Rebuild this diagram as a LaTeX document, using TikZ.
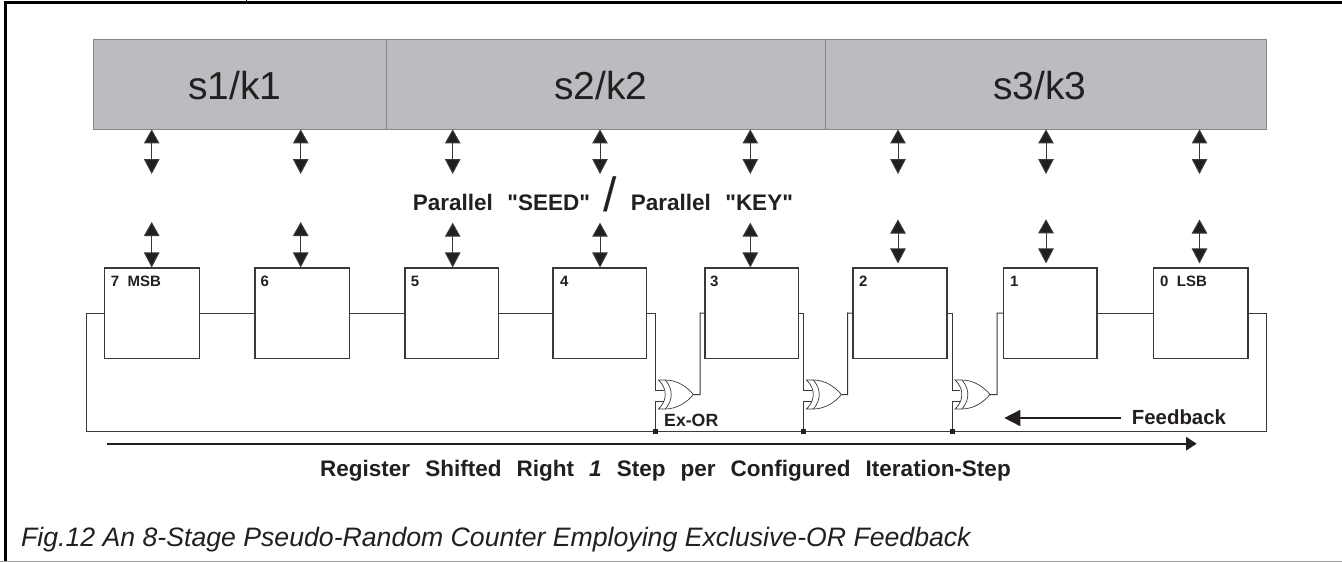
\documentclass[tikz,border=0pt]{standalone}
\usepackage{fontspec}
\setmainfont{Liberation Sans}[Ligatures=TeXOff]
\usetikzlibrary{arrows.meta,calc}
\definecolor{ink}{HTML}{231F20}
\definecolor{bandfill}{HTML}{BBBCBF}
\definecolor{bandline}{HTML}{858688}
\definecolor{wire}{HTML}{3A3839}
\newcommand{\fsz}[1]{\fontsize{#1}{#1}\selectfont}
\newcommand{\gap}{\hspace{0.64em}}
\newcommand{\gapb}{\hspace{0.67em}}
\tikzset{
  bandbox/.style={draw=bandline,line width=0.9pt,fill=bandfill,inner sep=0pt,minimum height=90pt,text=ink},
  regbox/.style={draw=wire,line width=1.1pt,fill=white,inner sep=0pt,minimum height=90.3pt},
  reglabel/.style={anchor=base west,inner sep=0pt,font=\fsz{15}\bfseries,text=ink},
  txt/.style={anchor=base west,inner sep=0pt,text=ink},
  wireline/.style={draw=wire,line width=1pt},
  bidir/.style={draw=wire,line width=1pt,{Triangle[length=14pt,width=15.5pt,fill=ink]}-{Triangle[length=15pt,width=15.5pt,fill=ink]}},
  dotnode/.style={fill=ink,inner sep=0pt,minimum size=4.5pt,rectangle},
  pics/xorgate/.style={code={
    \coordinate (-u) at (0,-3.8);
    \coordinate (-us) at (8,-3.8);
    \coordinate (-l) at (0,7.2);
    \coordinate (-ls) at (8,7.2);
    \coordinate (-o) at (37.7,0);
    \draw[draw=wire,line width=.7pt,fill=white]
      (2.7,-14.5) -- (9.5,-14.5) .. controls (22,-14.5) and (32,-7) .. (37.7,0)
      .. controls (32,7) and (22,14.5) .. (9.5,14.5) -- (2.7,14.5)
      .. controls (8.5,9) and (9.5,4) .. (9.5,0) .. controls (9.5,-4) and (8.5,-9) .. (2.7,-14.5) -- cycle;
    \draw[draw=wire,line width=.7pt]
      (9.5,-14.5) .. controls (14.5,-9) and (15.5,-4) .. (15.5,0) .. controls (15.5,4) and (14.5,9) .. (9.5,14.5);
  }}
}
\begin{document}
\begin{tikzpicture}[x=1pt,y=-1pt]
\useasboundingbox (0,0) rectangle (1342,562);
% frame
\fill[white] (0,0) rectangle (1342,562);
\draw[black,line width=2.6pt] (5.2,562) -- (5.2,2.6) -- (1342,2.6);
\draw[black,line width=1pt] (246.8,0) -- (246.8,3);
\draw[bandline!80,line width=1pt] (0,561.4) -- (1342,561.4);
% band
\node[bandbox,minimum width=293.5pt] (s1) at (239.75,84) {};
\node[bandbox,minimum width=438.5pt] (s2) at (605.75,84) {};
\node[bandbox,minimum width=441.5pt] (s3) at (1045.75,84) {};
\node[txt,font=\fsz{39}] (s1t) at (188,99) {s1/k1};
\node[txt,font=\fsz{39}] (s2t) at (554,99) {s2/k2};
\node[txt,font=\fsz{39}] (s3t) at (993,99) {s3/k3};
% registers
\node[regbox,minimum width=94.6pt] (r7) at (152,313.15) {};
\node[regbox,minimum width=94.3pt] (r6) at (302.15,313.15) {};
\node[regbox,minimum width=93.3pt] (r5) at (451.65,313.15) {};
\node[regbox,minimum width=93.6pt] (r4) at (599.8,313.15) {};
\node[regbox,minimum width=93.3pt] (r3) at (751.65,313.15) {};
\node[regbox,minimum width=94pt] (r2) at (900,313.15) {};
\node[regbox,minimum width=93.7pt] (r1) at (1050.15,313.15) {};
\node[regbox,minimum width=94.3pt] (r0) at (1200.85,313.15) {};
\node[reglabel] (l7) at (110.7,286) {7\ \ MSB};
\node[reglabel] (l6) at (260.3,286) {6};
\node[reglabel] (l5) at (410.7,286) {5};
\node[reglabel] (l4) at (560,286) {4};
\node[reglabel] (l3) at (710,286) {3};
\node[reglabel] (l2) at (859,286) {2};
\node[reglabel] (l1) at (1010,286) {1};
\node[reglabel] (l0) at (1160,286) {0\ \ LSB};
% upper arrows
\foreach \n/\xx/\bnd in {7/151.7/s1,6/300.7/s1,5/452.7/s2,4/600/s2,3/750.3/s2,2/898/s3,1/1046/s3,0/1199.5/s3}{
  \coordinate (t\n) at (\xx,174);
  \draw[bidir] (t\n |- \bnd.south) -- (t\n);
}
% lower arrows
\foreach \n/\xx/\yy in {7/151.7/222,6/300.7/222,5/452.7/222.7,4/600/222.7,3/750.3/222.7,2/898/219.5,1/1046/219.3,0/1199.5/219.5}{
  \coordinate (p\n) at (\xx,\yy);
}
\draw[bidir] (p7) -- (p7 |- r7.north);
\draw[bidir] (p6) -- (p6 |- r6.north);
\draw[bidir] (p5) -- (p5 |- r5.north);
\draw[bidir] (p4) -- (p4 |- r4.north);
\draw[bidir] (p3) -- (p3 |- r3.north);
\draw[bidir] ($(p2)$) -- ($(p2 |- r2.north)+(0,-4)$);
\draw[bidir] ($(p1)$) -- ($(p1 |- r1.north)+(0,-4)$);
\draw[bidir] ($(p0)$) -- ($(p0 |- r0.north)+(0,-4)$);
% seed/key label
\node[txt,font=\fsz{22.5}\bfseries] (seed) at (412.7,210.7) {Parallel\gap "SEED"};
\node[txt,font=\fsz{22.5}\bfseries] (key) at (630.7,210.7) {Parallel\gap "KEY"};
\node[txt,font=\fsz{48}] (slash) at (603,211.5) {/};
% shift chain
\draw[wireline] (r7.east) -- (r6.west);
\draw[wireline] (r6.east) -- (r5.west);
\draw[wireline] (r5.east) -- (r4.west);
\draw[wireline] (r1.east) -- (r0.west);
% feedback loop
\coordinate (fbl) at (86.3,431.3);
\coordinate (fbr) at (1266.3,431.3);
\draw[wireline] (r7.west) -| (fbl) -- (fbr) |- (r0.east);
% gates
\pic (g1) at (655.7,394.5) {xorgate};
\pic (g2) at (803.7,394.5) {xorgate};
\pic (g3) at (952.3,394.5) {xorgate};
\coordinate (k1) at (700,313);
\coordinate (k2) at (847.7,313);
\coordinate (k3) at (997,313);
\node[dotnode] (d1) at (655.7,431.3) {};
\node[dotnode] (d2) at (803.7,431.3) {};
\node[dotnode] (d3) at (952.3,431.3) {};
\draw[wireline] (r4.east) -| (g1-u) -- (g1-us);
\draw[wireline] (r3.east) -| (g2-u) -- (g2-us);
\draw[wireline] (r2.east) -| (g3-u) -- (g3-us);
\draw[wireline] (d1) -- (g1-l) -- (g1-ls);
\draw[wireline] (d2) -- (g2-l) -- (g2-ls);
\draw[wireline] (d3) -- (g3-l) -- (g3-ls);
\draw[wireline] (g1-o) -| (k1) -- (r3.west);
\draw[wireline] (g2-o) -| (k2) -- (r2.west);
\draw[wireline] (g3-o) -| (k3) -- (r1.west);
\node[txt,font=\fsz{17.7}\bfseries] (exor) at (664,426.7) {Ex-OR};
% feedback arrow
\node[txt,font=\fsz{20.4}\bfseries] (fb) at (1131.7,424.3) {Feedback};
\coordinate (fba) at (1004.3,418);
\coordinate (fbb) at (1120.7,418);
\draw[ink,line width=1.6pt,-{Triangle[length=16pt,width=16pt]}] (fbb) -- (fba);
% shift arrow
\coordinate (sa) at (107,443.7);
\coordinate (sb) at (1196.7,443.7);
\draw[ink,line width=2.2pt,-{Triangle[length=10.5pt,width=13pt]}] (sa) -- (sb);
\node[txt,font=\fsz{22.5}\bfseries] (reg) at (320,476) {Register\gapb Shifted\gapb Right\gapb\textit{1}\gapb Step\gapb per\gapb Configured\gapb Iteration-Step};
% caption
\node[txt,font=\fsz{26.65}\itshape] (cap) at (21,546) {Fig.12 An 8-Stage Pseudo-Random Counter Employing Exclusive-OR Feedback};
\end{tikzpicture}
\end{document}
